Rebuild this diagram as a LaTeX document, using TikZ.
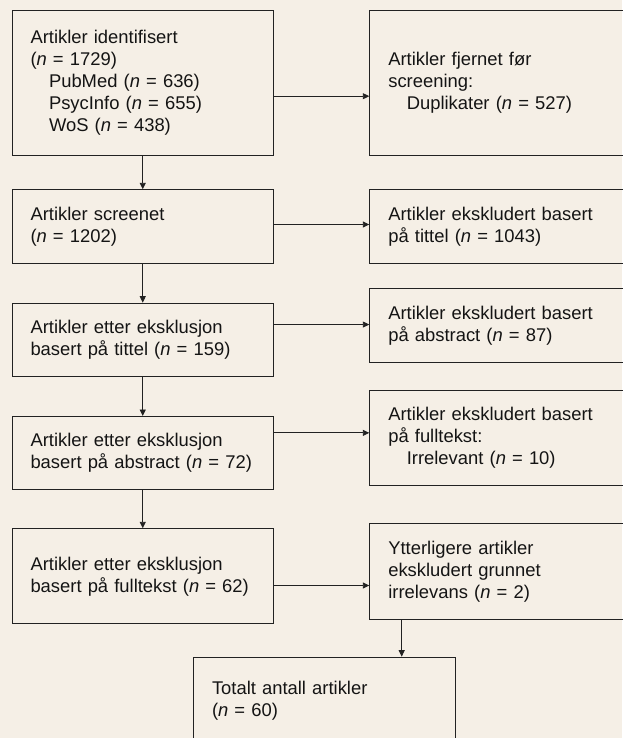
\documentclass[tikz,border=0pt]{standalone}
\usepackage{fontspec}
\setmainfont{Liberation Sans}
\usetikzlibrary{arrows.meta}
\definecolor{bakgrunn}{HTML}{F5EFE6}
\definecolor{strek}{HTML}{222222}
\newcommand{\innrykk}{\hspace*{18.5pt}}

\begin{document}
\begin{tikzpicture}[x=1pt,y=-1pt,
  flowbox/.style={draw=strek,line width=1pt,anchor=north west,align=left,
    text width=224.5pt,inner xsep=18.5pt,inner ysep=0pt,text=black!92,
    font=\fontsize{18.4}{22}\selectfont},
  arr/.style={draw=strek,line width=0.9pt,-{Triangle[length=6.5pt,width=6pt]}}]
\fill[bakgrunn] (0,0) rectangle (622,738);
\useasboundingbox (0,0) rectangle (622,738);

% venstre kolonne
\node[flowbox,minimum height=145pt] (ident) at (11.5,10) {Artikler identifisert\\(\textit{n} = 1729)\\
  \innrykk PubMed (\textit{n} = 636)\\\innrykk PsycInfo (\textit{n} = 655)\\\innrykk WoS (\textit{n} = 438)};
\node[flowbox,minimum height=74pt] (screen) at (11.5,189.3) {Artikler screenet\\(\textit{n} = 1202)};
\node[flowbox,minimum height=73.3pt] (tittel) at (11.5,302.7) {Artikler etter eksklusjon\\basert på tittel (\textit{n} = 159)};
\node[flowbox,minimum height=73.3pt] (abstr) at (11.5,416) {Artikler etter eksklusjon\\basert på abstract (\textit{n} = 72)};
\node[flowbox,minimum height=95pt] (full) at (11.5,528.3) {Artikler etter eksklusjon\\basert på fulltekst (\textit{n} = 62)};

% hoyre kolonne
\node[flowbox,minimum height=145pt] (dupl) at (369.3,10) {Artikler fjernet før\\screening:\\\innrykk Duplikater (\textit{n} = 527)};
\node[flowbox,minimum height=74pt] (eksTit) at (369.3,189.3) {Artikler ekskludert basert\\på tittel (\textit{n} = 1043)};
\node[flowbox,minimum height=74pt] (eksAbs) at (369.3,288.3) {Artikler ekskludert basert\\på abstract (\textit{n} = 87)};
\node[flowbox,minimum height=95.3pt] (eksFull) at (369.3,390) {Artikler ekskludert basert\\på fulltekst:\\\innrykk Irrelevant (\textit{n} = 10)};
\node[flowbox,minimum height=95.3pt] (eksIrr) at (369.3,523.3) {Ytterligere artikler\\ekskludert grunnet\\irrelevans (\textit{n} = 2)};

\node[flowbox,minimum height=87pt] (total) at (193,656.7) {Totalt antall artikler\\(\textit{n} = 60)};

% piler
\draw[arr] (ident) -- (screen);
\draw[arr] (screen) -- (tittel);
\draw[arr] (tittel) -- (abstr);
\draw[arr] (abstr) -- (full);

\draw[arr] ([yshift=-13.2pt]ident.east) -- ([yshift=-13.2pt]ident.east -| dupl.west);
\draw[arr] ([yshift=2.3pt]screen.east) -- ([yshift=2.3pt]screen.east -| eksTit.west);
\draw[arr] ([yshift=15.3pt]tittel.east) -- ([yshift=15.3pt]tittel.east -| eksAbs.west);
\draw[arr] ([yshift=20.3pt]abstr.east) -- ([yshift=20.3pt]abstr.east -| eksFull.west);
\draw[arr] ([yshift=-9.2pt]full.east) -- ([yshift=-9.2pt]full.east -| eksIrr.west);

\draw[arr] ([xshift=32.4pt]eksIrr.south west) -- ([xshift=32.4pt]eksIrr.south west |- total.north);
\end{tikzpicture}
\end{document}
